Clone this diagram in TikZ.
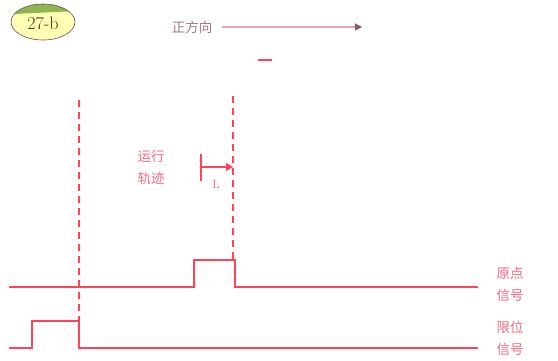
\documentclass[tikz,border=0pt]{standalone}
\usepackage{fontspec}
\newfontfamily\cjk{Noto Sans CJK SC}
\usetikzlibrary{arrows.meta}
\definecolor{sig}{HTML}{FF4458}
\definecolor{txt}{HTML}{EE6A82}
\definecolor{arr}{HTML}{8E5670}
\definecolor{arrl}{HTML}{E8A0B8}
\definecolor{badgey}{HTML}{FFFFB4}
\definecolor{badgeg}{HTML}{8FB550}
\begin{document}
\begin{tikzpicture}[x=1pt,y=-1pt,
  signal/.style={draw=sig,line width=1.2pt},
  guide/.style={draw=sig,line width=1.1pt,dash pattern=on 7pt off 5pt},
  lab/.style={text=txt,font=\cjk\fontsize{13.5}{22}\selectfont,align=left,inner sep=0pt}]
\useasboundingbox (0,0) rectangle (558,361);
% badge
\begin{scope}
\clip (43,22) ellipse (32 and 18);
\fill[badgey] (0,0) rectangle (100,50);
\fill[badgeg] (0,0) -- (0,15) .. controls (30,13) and (55,12) .. (80,11) -- (80,0) -- cycle;
\end{scope}
\draw[arr!80!black,line width=0.6pt] (43,22) ellipse (32 and 18);
\node[text=black!60!brown,font=\fontsize{18}{20}\selectfont,inner sep=0pt] (badge) at (43,23) {27-b};
% direction
\node[lab,text=arr!80] (dir) at (192,27) {正方向};
\coordinate (dirend) at (362,27);
\draw[arrl,line width=1.2pt,-{Triangle[length=7pt,width=7pt,fill=arr,color=arr]}] (222,27) -- (dirend);
\draw[sig,line width=1.5pt] (258,60) -- (272,60);
% guide lines
\coordinate (g1t) at (79,100);
\coordinate (g1b) at (79,321);
\coordinate (g2t) at (233,96);
\coordinate (g2b) at (233,260);
\draw[guide] (g1t) -- (g1b);
\draw[guide] (g2t) -- (g2b);
% trajectory label
\node[lab] (traj) at (151,167) {运行\\轨迹};
% L dimension
\coordinate (lbt) at (201,154);
\coordinate (lbb) at (201,181);
\coordinate (lm) at (201,167);
\coordinate (lr) at (233,167);
\draw[sig,line width=1.2pt] (lbt) -- (lbb);
\draw[sig,line width=1.2pt,-{Triangle[length=7pt,width=8pt]}] (lm) -- (lr);
\node[text=txt,font=\fontsize{12}{14}\selectfont,inner sep=0pt] (L) at (216,184) {L};
% origin signal
\draw[signal] (9,287) -- (194,287) -- (194,260) -- (235,260) -- (235,287) -- (478,287);
\node[lab] (os) at (510,284) {原点\\信号};
% limit signal
\draw[signal] (9,348) -- (32,348) -- (32,321) -- (79,321) -- (79,348) -- (478,348);
\node[lab] (ls) at (510,338) {限位\\信号};
\end{tikzpicture}
\end{document}
